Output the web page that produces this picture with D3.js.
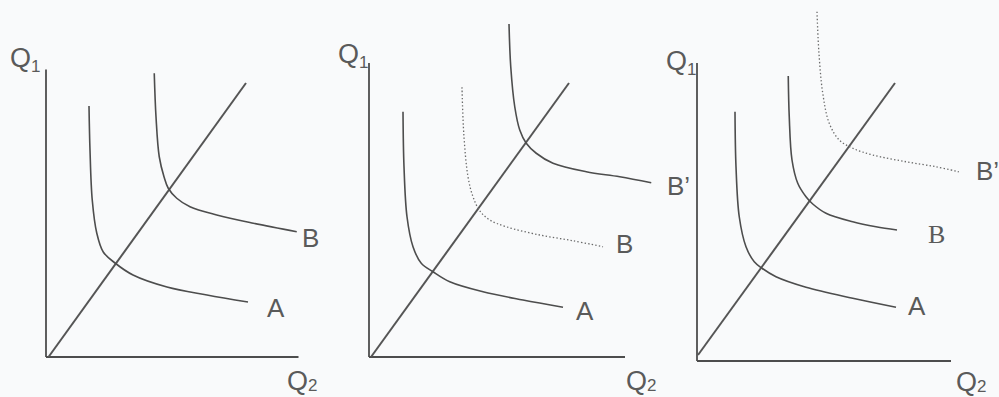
<!DOCTYPE html>
<html>
<head>
<meta charset="utf-8">
<script src="https://cdn.jsdelivr.net/npm/d3@7/dist/d3.min.js"></script>
<style>
  html, body { margin: 0; padding: 0; background: #f9fafb; }
  svg { display: block; }
  text { font-family: "Liberation Sans", Arial, sans-serif; fill: #5a5a5a; }
</style>
</head>
<body>
<svg id="chart" width="999" height="397"></svg>
<script>
// ---- Data (Q2 along x, Q1 along y) ----
const panelNames = ["left", "middle", "right"];
const axisQ2Max = [10.1, 10.24, 10.16];
const axisQ1Max = [11.5, 11.76, 11.92];
const rayFrom = [[0.1, 0], [0.08, 0], [0.04, 0.24]];
const rayTo = [[8.0, 10.96], [8.0, 10.96], [7.92, 11.12]];

// left panel
const leftA = [[1.72,10.04],[1.76,8.28],[1.85,6.28],[2.03,4.96],[2.29,4.2],[2.76,3.76],[3.48,3.28],[4.84,2.8],[6.44,2.48],[8.08,2.2]];
const leftB = [[4.33,11.35],[4.4,9.61],[4.53,8.01],[4.72,7.21],[4.89,6.75],[5.23,6.35],[5.76,6.01],[6.83,5.68],[8.29,5.35],[10.03,5.01]];
// middle panel
const midA = [[1.36,9.81],[1.4,7.61],[1.52,5.61],[1.76,4.41],[2.09,3.75],[2.56,3.41],[3.23,3.01],[4.56,2.61],[6.16,2.28],[7.76,1.99]];
const midB = [[3.72,10.79],[3.79,8.95],[3.96,7.21],[4.16,6.41],[4.43,5.85],[4.83,5.48],[5.49,5.21],[6.83,4.88],[8.16,4.65],[9.36,4.41]];
const midBPrime = [[5.6,13.32],[5.67,11.61],[5.83,10.01],[6.03,9.08],[6.29,8.55],[6.69,8.15],[7.36,7.75],[8.69,7.41],[10.03,7.21],[11.29,6.97]];
// right panel
const rightA = [[1.52,9.97],[1.56,7.77],[1.69,5.77],[1.96,4.57],[2.29,3.97],[2.6,3.71],[3.16,3.37],[4.36,2.95],[6.23,2.51],[7.96,2.15]];
const rightB = [[3.65,11.4],[3.69,9.77],[3.8,8.04],[4.03,7.11],[4.36,6.57],[4.63,6.28],[5.16,5.91],[6.23,5.57],[7.16,5.37],[8.0,5.24]];
const rightBPrime = [[4.8,13.97],[4.87,12.44],[5.03,10.71],[5.29,9.51],[5.69,8.84],[6.23,8.51],[7.03,8.24],[8.36,7.97],[9.56,7.77],[10.47,7.57]];

const curveNames = [["A", "B"], ["A", "B", "B’"], ["A", "B", "B’"]];
const curveData = [[leftA, leftB], [midA, midB, midBPrime], [rightA, rightB, rightBPrime]];
const curveDotted = [[false, false], [false, true, false], [false, false, true]];

// ---- Layout ----
const origin = [[46, 357], [369, 357], [697, 361]];
const unitPx = 25;
// label anchors, in axis units of each panel
const labelAt = [
  [[8.84, 1.6], [10.24, 4.4]],
  [[8.28, 1.48], [9.88, 4.16], [11.92, 6.48]],
  [[8.44, 1.84], [9.24, 4.72], [11.16, 7.24]]
];
const q1At = [[-1.44, 11.6], [-1.24, 11.76], [-1.24, 11.64]];
const q2At = [[9.64, -1.32], [10.28, -1.32], [10.36, -1.2]];

const svg = d3.select("#chart");

const ink = "#4d4d4d";
const line = d3.line().curve(d3.curveCatmullRom.alpha(0.5));

panelNames.forEach((name, i) => {
  const [ox, oy] = origin[i];
  const x = d3.scaleLinear().domain([0, 10]).range([ox, ox + 10 * unitPx]);
  const y = d3.scaleLinear().domain([0, 10]).range([oy, oy - 10 * unitPx]);
  const g = svg.append("g").attr("class", "panel " + name);

  // axes
  g.append("line")
    .attr("x1", x(0)).attr("y1", y(0))
    .attr("x2", x(0)).attr("y2", y(axisQ1Max[i]))
    .attr("stroke", ink).attr("stroke-width", 1.8);
  g.append("line")
    .attr("x1", x(0)).attr("y1", y(0))
    .attr("x2", x(axisQ2Max[i])).attr("y2", y(0))
    .attr("stroke", ink).attr("stroke-width", 1.8);

  // expansion ray
  g.append("line")
    .attr("x1", x(rayFrom[i][0])).attr("y1", y(rayFrom[i][1]))
    .attr("x2", x(rayTo[i][0])).attr("y2", y(rayTo[i][1]))
    .attr("stroke", "#555").attr("stroke-width", 2);

  // isoquants
  line.x(d => x(d[0])).y(d => y(d[1]));
  curveData[i].forEach((pts, k) => {
    const dotted = curveDotted[i][k];
    g.append("path")
      .attr("d", line(pts))
      .attr("fill", "none")
      .attr("stroke", dotted ? "#6a6a6a" : ink)
      .attr("stroke-width", dotted ? 1.3 : 1.6)
      .attr("stroke-dasharray", dotted ? "1.4,2.2" : null);
    const isSerif = (i === 2 && curveNames[i][k] === "B");
    g.append("text")
      .attr("x", x(labelAt[i][k][0]))
      .attr("y", y(labelAt[i][k][1]))
      .style("font-size", "26px")
      .style("font-family", isSerif ? "'Liberation Serif', 'Times New Roman', serif" : null)
      .text(curveNames[i][k]);
  });

  // axis titles
  const t1 = g.append("text")
    .attr("x", x(q1At[i][0])).attr("y", y(q1At[i][1]))
    .style("font-size", "27px");
  t1.append("tspan").text("Q");
  t1.append("tspan").attr("dy", 5).style("font-size", "17px").text("1");
  const t2 = g.append("text")
    .attr("x", x(q2At[i][0])).attr("y", y(q2At[i][1]))
    .style("font-size", "27px");
  t2.append("tspan").text("Q");
  t2.append("tspan").attr("dy", 1).style("font-size", "17px").text("2");
});
</script>
</body>
</html>
